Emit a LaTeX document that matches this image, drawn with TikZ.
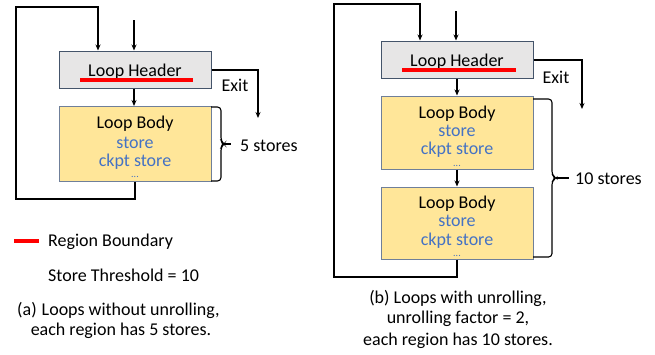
\documentclass[tikz,border=0pt]{standalone}
\usepackage{fontspec}
\setmainfont{Carlito}
\usetikzlibrary{arrows.meta}
\definecolor{hdrfill}{HTML}{E7E6E6}
\definecolor{hdrdraw}{HTML}{44546A}
\definecolor{bodyfill}{HTML}{FFE699}
\definecolor{bodydraw}{HTML}{6F7F99}
\definecolor{storeblue}{HTML}{4472C4}
\definecolor{regred}{HTML}{FF0000}
\begin{document}
\begin{tikzpicture}[x=1pt,y=-1pt,
  every node/.style={font=\fontsize{18}{21}\selectfont, inner sep=0pt},
  hdrbox/.style={draw=hdrdraw, fill=hdrfill, line width=1pt, minimum width=152pt, minimum height=37pt},
  bodybox/.style={draw=bodydraw, fill=bodyfill, line width=1pt, minimum width=152pt},
  stxt/.style={text=storeblue},
  dotsty/.style={text=storeblue, font=\fontsize{10}{12}\selectfont},
  conn/.style={line width=1.2pt, -{Stealth[length=6pt,width=5pt]}},
  plain/.style={line width=1.2pt},
  brc/.style={line width=1.1pt, rounded corners=3.5pt},
  redline/.style={draw=regred, line width=3.5pt}
]
\useasboundingbox (0,0) rectangle (655,354);

% ---------- (a) ----------
\node[hdrbox] (hA) at (135,69.5) {};
\node (hAt) at (135,72) {Loop Header};
\draw[redline] (80,80) -- (193,80);
\node[bodybox, minimum height=75pt] (bA) at (135,143.5) {};
\node (bA1) at (135,123.5) {Loop Body};
\node[stxt] (bA2) at (135,142.5) {store};
\node[stxt] (bA3) at (135,162) {ckpt store};
\node[dotsty] (bA4) at (135,177) {...};

\coordinate (inA) at (134,20);
\draw[conn] (inA) -- (inA |- hA.north);
\draw[conn] (hA.south -| 134,0) -- (134,106);
\coordinate (lA1) at (16,199);
\coordinate (lA2) at (16,7);
\coordinate (lA3) at (98,7);
\draw[conn] (bA.south) -- (bA.south |- lA1) -- (lA1) -- (lA2) -- (lA3) -- (lA3 |- hA.north);
\coordinate (exA) at (258,118);
\draw[conn] (hA.east |- 0,70) -- (exA |- 0,70) -- (exA);
\node (exAt) at (235,85) {Exit};
\draw[brc] (211,107) -- (221,107) -- (221,141) -- (224,144) -- (221,147) -- (221,181) -- (211,181);
\draw[plain] (224,144) -- (231,144);
\node[anchor=west] (sA) at (240,146) {5 stores};

% legend
\coordinate (lg1) at (14,241);
\coordinate (lg2) at (39,241);
\draw[redline] (lg1) -- (lg2);
\node[anchor=west] (rb) at (48,242) {Region Boundary};
\node[anchor=west] (st) at (48,275) {Store Threshold = 10};
\node[anchor=west] (capA1) at (17,310) {(a)\hspace{5pt}Loops without unrolling,};
\node (capA2) at (121,331) {each region has 5 stores.};

% ---------- (b) ----------
\node[hdrbox] (hB) at (457,59.5) {};
\node (hBt) at (457,62) {Loop Header};
\draw[redline] (402,70) -- (516,70);
\node[bodybox, minimum height=73pt] (bB) at (457,132.5) {};
\node (bB1) at (457,113.5) {Loop Body};
\node[stxt] (bB2) at (457,130.5) {store};
\node[stxt] (bB3) at (457,150) {ckpt store};
\node[dotsty] (bB4) at (457,165.5) {...};
\node[bodybox, minimum height=72pt] (cB) at (457,223) {};
\node (cB1) at (457,204) {Loop Body};
\node[stxt] (cB2) at (457,221) {store};
\node[stxt] (cB3) at (457,240.5) {ckpt store};
\node[dotsty] (cB4) at (457,256) {...};

\coordinate (inB) at (456,11);
\draw[conn] (inB) -- (inB |- hB.north);
\draw[conn] (hB.south) -- (bB.north);
\draw[conn] (bB.south) -- (cB.north);
\coordinate (lB1) at (334,277);
\coordinate (lB2) at (334,4);
\coordinate (lB3) at (420,4);
\draw[conn] (cB.south) -- (cB.south |- lB1) -- (lB1) -- (lB2) -- (lB3) -- (lB3 |- hB.north);
\coordinate (exB) at (582,109);
\draw[conn] (hB.east |- 0,60) -- (exB |- 0,60) -- (exB);
\node (exBt) at (556,77) {Exit};
\draw[brc] (533,99) -- (552,99) -- (552,175) -- (556,178) -- (552,181) -- (552,257) -- (533,257);
\draw[plain] (556,178) -- (569,178);
\node[anchor=west] (sB) at (575,179) {10 stores};

\node (capB1) at (458,298) {(b) Loops with unrolling,};
\node (capB2) at (458,319) {unrolling factor = 2,};
\node (capB3) at (458,341) {each region has 10 stores.};
\end{tikzpicture}
\end{document}
